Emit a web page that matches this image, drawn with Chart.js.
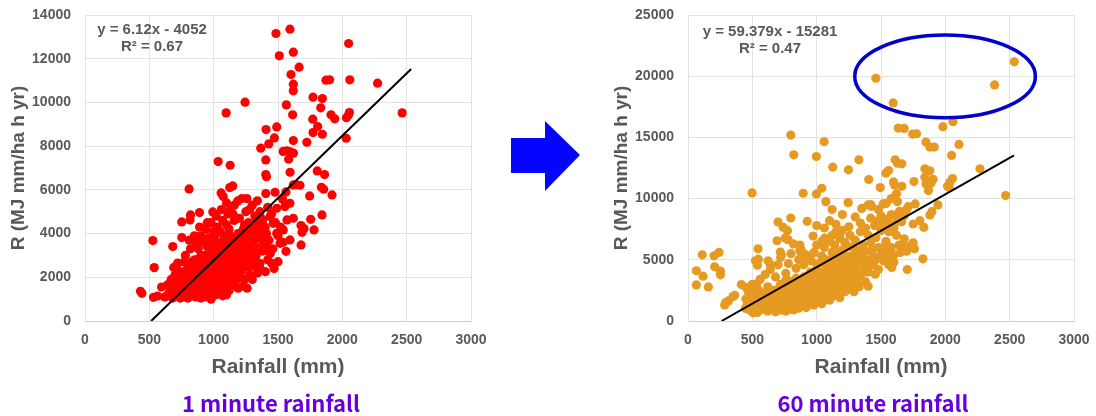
<!DOCTYPE html>
<html>
<head>
<meta charset="utf-8">
<script src="https://cdn.jsdelivr.net/npm/chart.js@4.4.1/dist/chart.umd.min.js"></script>
<style>
  html, body { margin:0; padding:0; background:#fff; width:1096px; height:416px; overflow:hidden; }
  .box { position:absolute; top:0; width:490px; height:380px; }
  .eq { position:absolute; font-family:"Liberation Sans", Arial, sans-serif; font-weight:bold; font-size:15px; color:#595959; text-align:center; line-height:17px; transform:translateX(-50%); white-space:nowrap; }
  .cap { position:absolute; top:388px; font-family:"Noto Sans CJK KR", "Noto Sans", sans-serif; font-weight:bold; font-size:22px; color:#6600dd; transform:translateX(-50%); white-space:nowrap; line-height:28px; }
</style>
</head>
<body>
<div class="box" id="b1" style="left:0px"><canvas id="c1"></canvas></div>
<div class="box" id="b2" style="left:603px"><canvas id="c2"></canvas></div>
<div class="eq" style="left:152px; top:20px">y = 6.12x - 4052<br>R² = 0.67</div>
<div class="eq" style="left:770px; top:22px">y = 59.379x - 15281<br>R² = 0.47</div>
<svg style="position:absolute; left:0; top:0" width="1096" height="416">
  <polygon points="511,138 545,138 545,121 580,155 545,191 545,173 511,173" fill="#0505ff"/>
</svg>
<div class="cap" style="left:271px">1 minute rainfall</div>
<div class="cap" style="left:873px">60 minute rainfall</div>
<script>
// ---- Data ----
const xTicks = [0, 500, 1000, 1500, 2000, 2500, 3000];
const yTicks1 = [0, 2000, 4000, 6000, 8000, 10000, 12000, 14000];
const yTicks2 = [0, 5000, 10000, 15000, 20000, 25000];
const xTitle = "Rainfall (mm)";
const yTitle = "R (MJ mm/ha h yr)";

// 1 minute rainfall: [rainfall, R]
const minute1Points = [
[1593,13352],[1484,13154],[2049,12696],[1510,12132],[1619,12300],[1664,11613],[1601,11277],[2274,10880],[1873,11018],[1901,11033],[2058,11033],[1619,10835],[1619,10530],[1614,9431],[1565,9888],[1244,10011],[1097,9522],[2465,9522],[1772,10240],[1845,10178],[1832,9751],[1770,9232],[1912,9431],[1941,9248],[2032,9300],[2048,9420],[2055,9540],[2030,8362],[1808,8897],[1772,8622],[1845,8545],[1724,8179],[1619,8256],[1490,8881],[1407,8759],[1472,8378],[1428,8103],[1366,7905],[1568,7783],[1540,7760],[1590,7750],[1620,7680],[1405,7370],[1583,7401],[1405,6700],[1410,6600],[1594,6806],[1805,6867],[1862,6700],[1035,7294],[1128,7126],[809,6043],[1058,5860],[1074,5692],[1125,6104],[1148,6180],[1619,6226],[1640,6241],[1671,6211],[1746,5722],[1837,6119],[1855,6028],[1920,5768],[1405,5829],[1477,5890],[1562,5906],[1536,5570],[1187,5494],[1257,5600],[1754,4654],[1842,4853],[1780,4166],[1679,4364],[1702,4227],[1687,4059],[1570,4624],[1619,4700],[1679,3479],[1562,3189],[1500,2716],[1402,2258],[890,4960],[993,4990],[820,4853],[816,4624],[752,4532],[752,3815],[527,3678],[682,3403],[538,2442],[595,1556],[431,1358],[442,1267],[532,1083],[564,1144],
[1554,5234],[1490,5158],[1593,5387],[1438,4776],[1464,4471],[1360,4166],[1541,4166],[1490,4013],[1593,3708],[1516,3555],[1412,3403],[1308,3098],[1360,2640],[1451,2640],[1270,2487],
[620,1100],[650,1250],[660,1500],[680,1050],[690,1300],[700,1700],[710,1150],[720,1450],[730,1900],[740,1050],[750,1250],[760,1600],[640,1650],[670,1900],[700,2100],[730,2300],[760,2200],[690,2450],[770,1100],[780,1350],[790,1800],[800,1050],[810,1500],[820,2000],[830,1250],[840,1700],[850,2400],[860,1100],[870,1450],[880,1900],[890,2200],[900,1300],[910,1650],[920,2600],[930,1100],[940,1500],[950,2000],[960,2300],[970,1250],[980,1750],[990,2800],[1000,1400],[1010,2100],[1020,1200],[1030,1850],[1040,2500],[1050,3100],[1060,1500],[1070,2250],[1080,2700],[1090,1750],[1100,3300],[1110,2050],[1120,2900],[1130,1600],[1140,2400],[1150,3600],[1160,2700],[1170,3200],[1180,1900],[1190,4000],[1200,2900],[1210,3500],[1220,2300],[1230,4200],[1240,3100],[1250,3800],[1260,1500],[1270,4500],[1280,3300],[1290,2800],[1300,4100],[1310,3600],[1320,4800],[1330,3000],[1340,4300],[1350,3800],[1360,5000],[1370,3400],[1380,4600],[1390,3900],[1400,4300],[1420,5200],[1430,3700],[1450,4900],[1460,3300],[1480,4500],[1500,3900],[1520,4300],[1540,3600],[1300,5300],[1250,5000],[1200,4700],[1150,4900],[1100,4400],[1050,4100],[1000,3700],[950,3400],[900,3000],[850,2800],[800,2600],[780,3000],[820,3300],[860,3600],[900,3900],[940,4200],[980,4500],[1020,4800],[1060,5100],[1100,5400],[1160,5300],[1220,5600],[1080,3900],[1120,4200],[1160,4600],[1200,4000],[1240,4400],[1280,5100],[1340,5500],[980,3200],[1020,3400],[1060,3600],[1100,3800],[1140,3000],[1180,3400],[1220,2700],[1260,3500],[1300,2500],[1340,2200],[1000,2600],[1040,2900],[1080,1900],[1120,1400],[1160,2100],[1200,2400],[1240,1900],[1280,2100],[950,2700],[910,2450],[870,2150],[830,2700],[790,2350],[750,1950],[720,2650],[880,3300],[920,3600],[960,3800],[1000,4100],[940,1200],[980,1000],[900,1050],[1040,1300],[1070,1150],[1010,1600],[960,1450],[1100,1200],[1190,1500],[1230,1600],[1180,2300],[1300,1900],[1360,2400],[1420,2800],[1440,3100],[1380,3200],[1470,2400],
[660,1200],[690,1600],[710,1900],[740,1700],[770,1450],[780,2000],[800,1300],[800,1900],[820,1150],[830,1550],[840,2100],[850,1300],[860,1900],[870,2500],[880,1200],[890,1600],[900,2100],[910,1150],[920,1400],[920,1900],[930,2300],[940,1750],[950,1300],[960,2600],[970,1600],[980,2100],[990,1200],[990,2400],[1000,1900],[1000,3000],[1010,1300],[1020,2300],[1020,2800],[1030,1600],[1040,2100],[1050,1700],[1050,2600],[1060,2000],[1060,3300],[1070,2800],[1080,1500],[1080,2400],[1090,3000],[1090,2000],[1100,2600],[1110,1600],[1110,3500],[1120,2300],[1130,2800],[1130,3900],[1140,2000],[1150,3200],[1150,1800],[1160,2500],[1170,3700],[1170,2200],[1180,2800],[1190,3200],[1200,2100],[1200,3500],[1210,2600],[1220,3900],[1230,3000],[1240,2500],[1250,3300],[1260,4100],[1270,2900],[1280,3700],[1290,4400],[1300,3200],[1310,2800],[1320,3800],[1330,4500],[1350,3300],[1350,4100],[1370,4700],[1390,3600],[1410,4000],[870,2800],[930,3000],[970,3500],[1010,3900],[1030,4300],[1070,4600],[1110,4900],[1130,5100],[950,4500],[890,4300],[850,3900],[810,3700],[770,2700]
];

// 60 minute rainfall: [rainfall, R]
const minute60Points = [
[2536,21173],[2383,19288],[1460,19834],[1595,17813],[2059,16283],[1981,15873],[1634,15764],[1680,15737],[1746,15272],[1776,15299],[1849,14616],[1880,14206],[1914,14206],[2106,14425],[2049,13524],[799,15190],[1058,14644],[822,13578],[998,13441],[1328,13168],[1610,13168],[1628,12895],[1662,12840],[1125,12567],[1247,12349],[1538,12075],[1559,12294],[2269,12430],[1841,12430],[1880,12267],[1405,11556],[1597,11365],[1605,11119],[1662,11010],[1756,11392],[1841,11747],[1850,11200],[1870,11400],[1888,11250],[1905,11580],[2056,11638],[2036,11338],[2017,11010],[2030,10900],[1942,9480],[1869,10655],[1880,8660],[1895,8933],[2469,10245],[498,10463],[895,10436],[998,10382],[1040,10846],[1071,9753],[1245,9671],[1494,10900],[1517,9562],[1400,9480],[1426,9371],[1628,9753],[1647,8961],[1711,9343],[1766,9562],[1802,8196],[1833,7650],[1750,7923],[1826,5082],[1704,4207],[1584,4371],[1455,3825],[1400,2841],[1750,6393],[1664,6202],[1680,6721],[1564,6010],[1582,5464],[1180,6748],[1063,6776],[972,6940],[926,8141],[700,8087],[739,7650],[773,7377],[778,6639],[755,6776],[799,8414],[692,6557],[869,5737],[879,5191],[718,5628],[726,5382],[547,5054],[524,4918],[539,4562],[622,4918],[640,4617],[544,5901],
[65,4098],[65,2950],[117,3661],[158,2787],[111,5409],[202,5327],[241,5601],[207,4426],[252,4071],[252,3770],[285,1311],[293,1503],[314,1639],[350,1994],[363,2104],[415,2978],[454,2732],[467,2459],[506,2732],[532,3005],[506,683],[446,1038],
[480,900],[520,1200],[540,700],[560,1400],[580,950],[600,1150],[620,800],[640,1300],[660,1000],[680,750],[700,1250],[720,900],[740,1450],[760,800],[780,1100],[800,1300],[820,900],[840,1500],[860,1050],[880,1300],[900,1700],[920,1100],[940,1500],[960,1900],[980,1300],[1000,1600],[1020,2100],[1040,1400],[1060,1800],[1080,2300],[1100,1700],[1120,2000],[1140,2600],[1160,2200],[1180,1900],[1200,2800],[1220,2400],
[450,1800],[500,2200],[520,1700],[550,2500],[570,1900],[600,2300],[620,2800],[650,2000],[670,2500],[700,2200],[720,3000],[740,2000],[760,2600],[780,3300],[800,2200],[820,2800],[840,3500],[860,2400],[880,3000],[900,2600],[920,3300],[940,2800],[960,3700],[980,2500],[1000,3100],[1020,3900],[1040,2700],[1060,3400],[1080,4100],[1100,2900],[1120,3600],[1140,4300],[1160,3100],[1180,3800],[1200,4500],[1220,3300],[1240,4000],[1260,4700],[1280,3500],[1300,4200],[1320,3000],[1340,3700],[1360,4500],[1380,3200],[1400,4000],[1250,2600],[1290,2400],[1330,2800],
[500,3000],[560,3400],[600,3800],[640,4200],[680,3600],[700,4600],[720,5200],[760,3900],[780,4700],[800,5500],[840,4300],[860,5000],[880,5800],[900,4600],[920,5400],[960,4900],[980,5600],[1000,6200],[1020,4700],[1040,5300],[1060,6000],[1080,5000],[1100,6500],[1120,5600],[1140,6200],[1160,5200],[1180,6800],[1200,5800],[1220,6400],[1240,5300],[1260,7000],[1280,6000],[1300,6600],[1320,5500],[1340,7300],[1360,6200],[1380,5700],[1400,7000],[1420,6400],[1440,5300],[1460,6800],[1480,6000],[1500,7400],[1520,5600],[1540,6500],[1560,5200],[1580,6000],[1600,5400],[1620,7000],[1640,6200],[1660,5800],[1440,4600],[1480,4200],[1520,4900],[1560,4600],[1600,4800],[1650,5600],[1700,5700],[1720,6100],[1760,5900],
[1340,8000],[1380,7600],[1420,8400],[1450,7800],[1480,8200],[1500,8600],[1520,7700],[1540,8300],[1560,8000],[1580,8700],[1600,7800],[1620,8400],[1640,8900],[1660,8100],[1680,8600],[1700,9100],[1560,7300],[1600,7600],[1250,7700],[1200,7400],[1150,7900],[1100,8200],[1060,7600],[1000,7800],[1300,8500],[1350,9200],[1420,9500],[1480,9100],[1200,8700],[1120,9100],[1540,9600],[1580,10000],[1620,10400],
[460,1300],[490,1500],[510,900],[530,1900],[550,1100],[570,1600],[590,2000],[610,1400],[630,1100],[630,1800],[650,2300],[660,1500],[680,1200],[690,1900],[700,2600],[710,1000],[720,1600],[730,2100],[740,1100],[750,2800],[760,1500],[770,1900],[780,2400],[790,1000],[800,1700],[810,2600],[820,1300],[830,2100],[840,2900],[850,1200],[860,1800],[870,2200],[880,2600],[890,1500],[900,2000],[900,3200],[910,1300],[920,2400],[930,1800],[940,3100],[950,2200],[960,1600],[970,2700],[980,3400],[990,2000],[1000,2400],[1000,3700],[1010,1800],[1020,2900],[1030,3300],[1040,2200],[1050,4000],[1050,2900],[1060,2500],[1070,3700],[1080,2000],[1080,3200],[1090,4400],[1100,2500],[1100,3500],[1110,3900],[1120,2700],[1130,4600],[1130,3200],[1150,2800],[1150,3800],[1160,4900],[1170,3400],[1180,2500],[1190,4200],[1200,3600],[1210,5000],[1220,2900],[1230,4300],[1240,3600],[1250,5100],[1260,3000],[1270,4400],[1280,5300],[1290,3800],[1300,4900],[1310,3400],[1320,5800],[1330,4600],[1350,5200],[1370,4000],[1390,5000],[1410,4500],[1430,5800],[1460,5000],[1500,5400],[1530,6100],[1240,6100],[1180,5600],[1130,5200],[1070,4600],[1000,4300],[950,4000],[900,3600],[850,3200],[800,3000],[760,3300],[950,5000],[1040,6500],[1120,7000],[1150,7300],[870,6200],[820,6300]
];

// trend lines as drawn (start and end points)
const trend1 = [[514, 0], [2535, 11530]];
const trend60 = [[261, 0], [2534, 13525]];
// highlighted outliers ellipse (center and radii in data units)
const ellipseCenter = [1998, 19984];
const ellipseRadius = [702, 3377];

// ---- Charts ----
const FONT = '"Liberation Sans", Arial, sans-serif';
const GRID = '#e3e3e3';
const TICK = '#595959';

function toXY(arr){ return arr.map(p => ({x:p[0], y:p[1]})); }

const ellipsePlugin = {
  id: 'ellipse',
  afterDatasetsDraw(chart, args, opts) {
    if (!opts || !opts.show) return;
    const xs = chart.scales.x, ys = chart.scales.y;
    const cx = xs.getPixelForValue(ellipseCenter[0]);
    const cy = ys.getPixelForValue(ellipseCenter[1]);
    const rx = Math.abs(xs.getPixelForValue(ellipseCenter[0] + ellipseRadius[0]) - cx);
    const ry = Math.abs(ys.getPixelForValue(ellipseCenter[1] + ellipseRadius[1]) - cy);
    const ctx = chart.ctx;
    ctx.save();
    ctx.beginPath();
    ctx.ellipse(cx, cy, rx, ry, 0, 0, Math.PI * 2);
    ctx.lineWidth = 3.5;
    ctx.strokeStyle = '#0000cc';
    ctx.stroke();
    ctx.restore();
  }
};

function zeroPad(s) { s.paddingTop = 0; s.paddingBottom = 0; s.paddingLeft = 0; s.paddingRight = 0; }

function makeChart(id, points, color, trend, yTicks, showEllipse) {
  const yMax = yTicks[yTicks.length - 1];
  return new Chart(document.getElementById(id), {
    type: 'scatter',
    data: {
      datasets: [
        { data: toXY(points), backgroundColor: color, borderWidth: 0, pointRadius: 4.6, pointHoverRadius: 4.6, order: 2 },
        { type: 'line', data: toXY(trend), borderColor: '#000', borderWidth: 2, pointRadius: 0, fill: false, order: 1 }
      ]
    },
    plugins: [ellipsePlugin],
    options: {
      responsive: true,
      maintainAspectRatio: false,
      animation: false,
      events: [],
      layout: { padding: { top: 15, right: 19, left: 0, bottom: 0 } },
      plugins: { legend: { display: false }, tooltip: { enabled: false }, ellipse: { show: showEllipse } },
      scales: {
        x: {
          type: 'linear', min: xTicks[0], max: xTicks[xTicks.length - 1],
          afterBuildTicks: s => { s.ticks = xTicks.map(v => ({ value: v })); },
          afterFit: s => { s.height = 59; zeroPad(s); },
          grid: { color: GRID, drawTicks: false, lineWidth: 1 },
          border: { color: '#d0d0d0' },
          ticks: { color: TICK, font: { family: FONT, size: 14, weight: 'bold' }, padding: 11, maxRotation: 0, callback: v => String(v) },
          title: { display: true, text: xTitle, color: TICK, font: { family: FONT, size: 21, weight: 'bold' }, padding: { top: 4, bottom: 0 } }
        },
        y: {
          type: 'linear', min: 0, max: yMax,
          afterBuildTicks: s => { s.ticks = yTicks.map(v => ({ value: v })); },
          afterFit: s => { s.width = 85; zeroPad(s); },
          grid: { color: GRID, drawTicks: false, lineWidth: 1 },
          border: { color: GRID },
          ticks: { color: TICK, font: { family: FONT, size: 14, weight: 'bold' }, padding: 14, callback: v => String(v) },
          title: { display: true, text: yTitle, color: TICK, font: { family: FONT, size: 19, weight: 'bold' }, padding: { top: 7, bottom: 0 } }
        }
      }
    }
  });
}

makeChart('c1', minute1Points, '#ff0000', trend1, yTicks1, false);
makeChart('c2', minute60Points, '#e69a22', trend60, yTicks2, true);
</script>
</body>
</html>
